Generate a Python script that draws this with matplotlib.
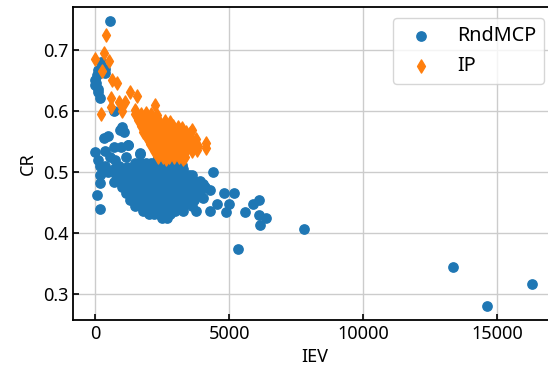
import matplotlib.pyplot as plt

# RndMCP points (IEV, CR), scattered ones first,
# then the dense band row by row
rnd_iev = [563,
           0, 0, 107, 172, 238, 107, 372, 372, 120, 50, 80,
           694, 343, 500, 694, 955, 1020, 1090, 1228, 930, 1240, 1680, 1190,
           0, 107, 172, 81, 172, 172, 383, 563, 758, 888, 694, 1672, 1150, 383,
           300, 200, 500, 700, 800, 900,
           2310, 2454, 3250, 4409,
           1500, 1700, 1900, 2100, 2300, 2500, 2800, 3100,
           1000, 1200, 1400, 1600, 1800, 2000, 2200, 2400, 2600, 2800, 3000, 3200, 3300,
           900, 1100, 1300, 1500, 1700, 1900, 2100, 2300, 2500, 2700, 2900, 3100, 3300, 3500, 3600,
           900, 1100, 1300, 1500, 1700, 1900, 2100, 2300, 2500, 2700, 2900, 3100, 3300, 3500, 3700, 3900,
           1000, 1200, 1400, 1600, 1800, 2000, 2200, 2400, 2600, 2800, 3000, 3200, 3400, 3600, 3800, 4100,
           1150, 1350, 1550, 1750, 1950, 2150, 2350, 2550, 2750, 2950, 3150, 3350, 3550, 3750, 3900,
           1300, 1500, 1700, 1900, 2100, 2300, 2500, 2700, 2900, 3100, 3300, 3500, 3700,
           1500, 1700, 1900, 2100, 2300, 2500, 2700, 2900, 3100, 3300, 3600,
           1800, 2000, 2200, 2400, 2600, 2800, 3000, 3300,
           2000, 2200, 2400, 2600, 2800,
           2500, 2700,
           4020, 4280, 4540, 4020, 4800, 5192, 5000, 4900, 4280, 3757,
           5584, 5910, 6130, 6130, 6365, 6170, 7800, 5323, 13354, 14604, 16312]
rnd_cr = [0.747,
          0.651, 0.642, 0.636, 0.621, 0.679, 0.667, 0.662, 0.669, 0.630, 0.645, 0.658,
          0.599, 0.555, 0.559, 0.541, 0.541, 0.574, 0.566, 0.544, 0.569, 0.544, 0.531, 0.508,
          0.533, 0.520, 0.509, 0.462, 0.482, 0.439, 0.535, 0.525, 0.520, 0.509, 0.484, 0.530, 0.525, 0.509,
          0.500, 0.495, 0.500, 0.505, 0.495, 0.490,
          0.520, 0.509, 0.511, 0.500,
          0.515, 0.515, 0.515, 0.515, 0.515, 0.515, 0.515, 0.515,
          0.505, 0.505, 0.505, 0.505, 0.505, 0.505, 0.505, 0.505, 0.505, 0.505, 0.505, 0.505, 0.505,
          0.495, 0.495, 0.495, 0.495, 0.495, 0.495, 0.495, 0.495, 0.495, 0.495, 0.495, 0.495, 0.495, 0.495, 0.495,
          0.485, 0.485, 0.485, 0.485, 0.485, 0.485, 0.485, 0.485, 0.485, 0.485, 0.485, 0.485, 0.485, 0.485, 0.485, 0.485,
          0.475, 0.475, 0.475, 0.475, 0.475, 0.475, 0.475, 0.475, 0.475, 0.475, 0.475, 0.475, 0.475, 0.475, 0.475, 0.475,
          0.465, 0.465, 0.465, 0.465, 0.465, 0.465, 0.465, 0.465, 0.465, 0.465, 0.465, 0.465, 0.465, 0.465, 0.465,
          0.455, 0.455, 0.455, 0.455, 0.455, 0.455, 0.455, 0.455, 0.455, 0.455, 0.455, 0.455, 0.455,
          0.445, 0.445, 0.445, 0.445, 0.445, 0.445, 0.445, 0.445, 0.445, 0.445, 0.445,
          0.436, 0.436, 0.436, 0.436, 0.436, 0.436, 0.436, 0.436,
          0.432, 0.432, 0.432, 0.432, 0.432,
          0.425, 0.424,
          0.481, 0.470, 0.448, 0.457, 0.465, 0.465, 0.448, 0.434, 0.437, 0.437,
          0.434, 0.447, 0.455, 0.429, 0.424, 0.414, 0.406, 0.374, 0.345, 0.281, 0.317]

# IP points (IEV, CR), scattered ones first, then the dense blob row by row
ip_iev = [0, 394, 340, 520, 277, 628, 820, 238, 600, 600, 890, 1120, 1320, 1580, 2220, 1020, 1477,
          3627, 4140, 4140,
          1500, 1700, 1900, 2100, 2300,
          1600, 1800, 2000, 2200, 2400, 2600, 2800,
          1700, 1900, 2100, 2300, 2500, 2700, 2900, 3100, 3250,
          1800, 2000, 2200, 2400, 2600, 2800, 3000, 3200, 3400, 3550,
          1950, 2150, 2350, 2550, 2750, 2950, 3150, 3350, 3550, 3750,
          2050, 2250, 2450, 2650, 2850, 3050, 3250, 3450, 3650, 3850,
          2200, 2400, 2600, 2800, 3000, 3200, 3400, 3600, 3800,
          2350, 2550, 2750, 2950, 3150, 3350,
          2650, 3300]
ip_cr = [0.684, 0.724, 0.695, 0.682, 0.665, 0.651, 0.646, 0.594, 0.621, 0.607, 0.615, 0.615, 0.630, 0.624, 0.610, 0.599, 0.602,
         0.569, 0.547, 0.539,
         0.595, 0.595, 0.596, 0.594, 0.593,
         0.585, 0.585, 0.585, 0.585, 0.584, 0.583, 0.582,
         0.575, 0.575, 0.575, 0.575, 0.575, 0.575, 0.575, 0.574, 0.572,
         0.565, 0.565, 0.565, 0.565, 0.565, 0.565, 0.565, 0.565, 0.566, 0.564,
         0.555, 0.555, 0.555, 0.555, 0.555, 0.555, 0.555, 0.555, 0.555, 0.554,
         0.545, 0.545, 0.545, 0.545, 0.545, 0.545, 0.545, 0.545, 0.545, 0.543,
         0.535, 0.535, 0.535, 0.535, 0.535, 0.535, 0.535, 0.535, 0.536,
         0.525, 0.525, 0.525, 0.525, 0.525, 0.525,
         0.521, 0.522]

plt.rcParams['font.family'] = ['Noto Sans', 'DejaVu Sans']
plt.rcParams['font.size'] = 13

fig = plt.figure(figsize=(5.48, 3.69), dpi=100)
ax = fig.add_axes([0.1332, 0.1328, 0.8827, 0.848])

ax.scatter(rnd_iev, rnd_cr, s=45, color='#1f77b4', label='RndMCP', zorder=2)
ax.scatter(ip_iev, ip_cr, s=45, marker='d', color='#ff7f0e', label='IP', zorder=3)

ax.set_xlim(-821, 17220)
ax.set_ylim(0.258, 0.7696)
ax.set_xticks([0, 5000, 10000, 15000])
ax.set_yticks([0.3, 0.4, 0.5, 0.6, 0.7])
ax.grid(True, color='#cccccc', linewidth=1, zorder=0)
ax.set_axisbelow(True)
ax.tick_params(direction='in', length=4, width=1.2, color='black')
for sp in ax.spines.values():
    sp.set_linewidth(1.3)

ax.set_xlabel('IEV')
ax.set_ylabel('CR')
ax.legend(loc='upper right', bbox_to_anchor=(0.9737, 0.965), borderaxespad=0,
          fontsize=14.3)

fig.savefig('out.png', dpi=100)
